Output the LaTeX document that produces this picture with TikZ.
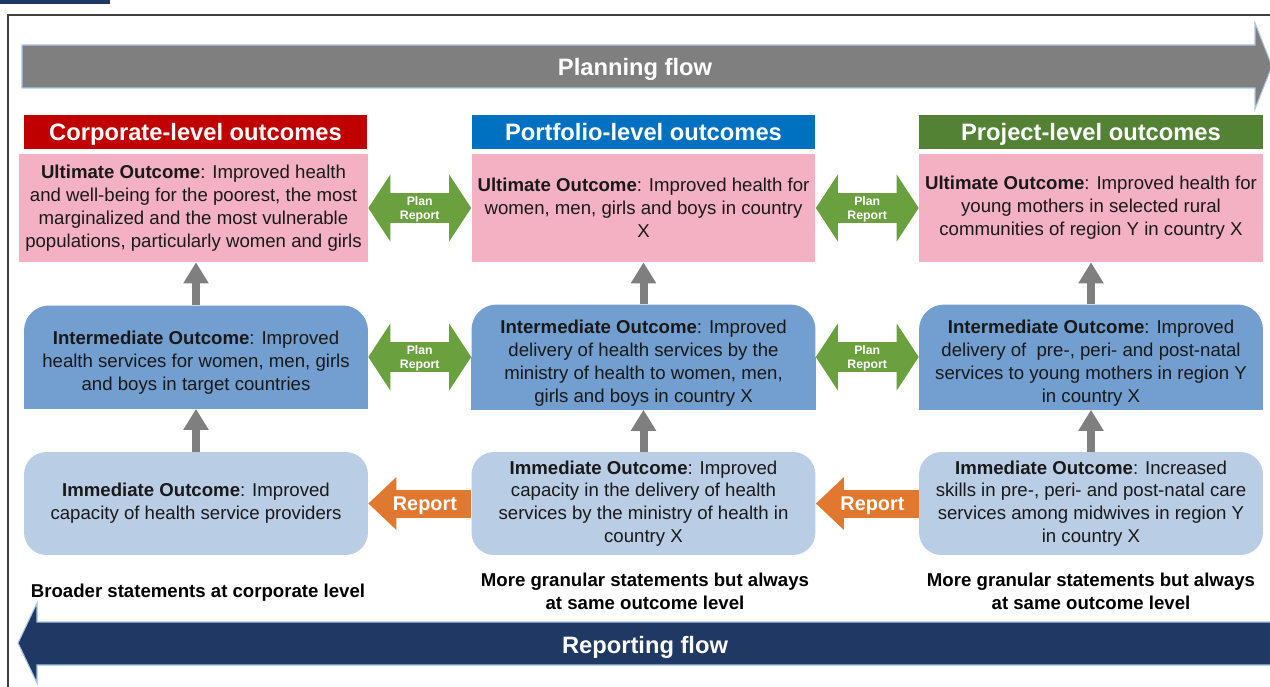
\documentclass[tikz,border=0pt]{standalone}
\usepackage{fontspec}
\setmainfont{Liberation Sans}
\usepackage{xcolor}
\definecolor{corp-red}{HTML}{C00000}
\definecolor{port-blue}{HTML}{0070C0}
\definecolor{proj-green}{HTML}{548235}
\definecolor{ult-fill}{HTML}{F4B1C4}
\definecolor{int-fill}{HTML}{729FCF}
\definecolor{imm-fill}{HTML}{B9CDE5}
\definecolor{up-gray}{HTML}{7F7F7F}
\definecolor{link-green}{HTML}{6AA03E}
\definecolor{report-orange}{HTML}{E0782F}
\definecolor{flow-navy}{HTML}{203864}
\definecolor{edge-blue}{HTML}{A9C6E8}
\definecolor{frame-gray}{HTML}{404040}
\usepackage{tikz}
\usetikzlibrary{
  arrows.meta,
  backgrounds
}
% extra room above the first line of the intermediate boxes
\newcommand{\intgap}{\rule{0pt}{14.5pt}}

\begin{document}
\begin{tikzpicture}[
    x=0.02cm, y=-0.02cm,
    head/.style={
      minimum width=6.88cm,
      minimum height=0.68cm,
      inner sep=0pt,
      text height=9.7pt,
      text depth=0pt,
      text=white,
      font=\fontsize{13.5}{16}\selectfont\bfseries
    },
    outcome/.style={
      minimum width=6.88cm,
      minimum height=2.06cm,
      inner sep=2pt,
      align=center,
      text=black!90,
      font=\fontsize{10.6}{13}\selectfont
    },
    ultbox/.style={outcome, fill=ult-fill, minimum height=2.16cm},
    intbox/.style={outcome, fill=int-fill, rounded corners=0.5cm},
    immbox/.style={outcome, fill=imm-fill, rounded corners=0.45cm},
    uparrow/.style={
      draw=up-gray,
      line width=0.16cm,
      -{Triangle[length=0.42cm,width=0.48cm]}
    },
    planrep/.style={
      draw=link-green,
      line width=0.6cm,
      {Triangle[length=0.44cm,width=1.32cm]}-{Triangle[length=0.44cm,width=1.32cm]}
    },
    reparrow/.style={
      draw=report-orange,
      line width=0.56cm,
      -{Triangle[length=0.56cm,width=1.02cm]}
    },
    smalllabel/.style={
      text=white,
      align=center,
      inner sep=0pt,
      yshift=-1pt,
      font=\fontsize{7}{8}\selectfont\bfseries
    },
    replabel/.style={
      text=white,
      inner sep=0pt,
      text height=8.1pt,
      text depth=0pt,
      font=\fontsize{11.3}{13}\selectfont\bfseries
    },
    note/.style={
      align=center,
      text=black,
      font=\fontsize{10.6}{13}\selectfont\bfseries
    },
    flowlabel/.style={
      text=white,
      text height=9.7pt,
      text depth=0pt,
      font=\fontsize{13.5}{16}\selectfont\bfseries
    }
  ]
    \useasboundingbox (0,0) rectangle (1270,686);
    \clip (0,0) rectangle (1270,686);

    % frame and corner tab
    \fill[flow-navy] (0,0) rectangle (110,4);
    \draw[frame-gray, line width=0.9pt] (8,15) rectangle (1290,700);

    % planning flow, left to right
    \filldraw[draw=edge-blue, line width=0.6pt, fill=up-gray]
      (22,45) -- (1255,45) -- (1255,23) -- (1272,66) -- (1255,109) -- (1255,88) -- (22,88) -- cycle;
    \node[flowlabel] (plan) at (635,67) {Planning flow};

    % reporting flow, right to left
    \filldraw[draw=edge-blue, line width=0.6pt, fill=flow-navy]
      (1290,622) -- (37,622) -- (37,603) -- (18,643) -- (37,683) -- (37,665) -- (1290,665) -- cycle;
    \node[flowlabel] (rep) at (645,645) {Reporting flow};

    % column headers
    \node[head, fill=corp-red]   (corp) at (195.5,132)  {Corporate-level outcomes};
    \node[head, fill=port-blue]  (port) at (643.5,132)  {Portfolio-level outcomes};
    \node[head, fill=proj-green] (proj) at (1091,132)   {Project-level outcomes};

    % ultimate outcomes
    \node[ultbox, minimum width=6.98cm] (ult1) at (193.5,208)
      {\textbf{Ultimate Outcome}: Improved health\\and well-being for the poorest, the most\\marginalized and the most vulnerable\\populations, particularly women and girls};
    \node[ultbox] (ult2) at (643.5,208)
      {\textbf{Ultimate Outcome}: Improved health for\\women, men, girls and boys in country\\X};
    \node[ultbox] (ult3) at (1091,208)
      {\textbf{Ultimate Outcome}: Improved health for\\young mothers in selected rural\\communities of region Y in country X};

    % intermediate outcomes
    \node[intbox] (int1) at (196,357)
      {\intgap\textbf{Intermediate Outcome}: Improved\\health services for women, men, girls\\and boys in target countries};
    \node[intbox] (int2) at (643.5,357)
      {\intgap\textbf{Intermediate Outcome}: Improved\\delivery of health services by the\\ministry of health to women, men,\\girls and boys in country X};
    \node[intbox] (int3) at (1091,357)
      {\intgap\textbf{Intermediate Outcome}: Improved\\delivery of\ \ pre-, peri- and post-natal\\services to young mothers in region Y\\in country X};

    % square off the lower corners of the intermediate boxes
    \begin{scope}[on background layer]
      \foreach \n in {int1,int2,int3}
        \fill[int-fill] (\n.west) rectangle (\n.south east);
    \end{scope}

    % immediate outcomes
    \node[immbox] (imm1) at (196,503.5)
      {\textbf{Immediate Outcome}: Improved\\capacity of health service providers};
    \node[immbox] (imm2) at (643.5,503.5)
      {\textbf{Immediate Outcome}: Improved\\capacity in the delivery of health\\services by the ministry of health in\\country X};
    \node[immbox] (imm3) at (1091,503.5)
      {\textbf{Immediate Outcome}: Increased\\skills in pre-, peri- and post-natal care\\services among midwives in region Y\\in country X};

    % immediate -> intermediate -> ultimate
    \foreach \c in {1,2,3} {
      \draw[uparrow] (imm\c.north) -- (int\c.south);
      \draw[uparrow] (int\c.north) -- (int\c.north |- ult\c.south);
    }

    % plan / report links between levels
    \draw[planrep] (ult1.east) -- node[smalllabel] {Plan\\Report} (ult2.west);
    \draw[planrep] (ult2.east) -- node[smalllabel] {Plan\\Report} (ult3.west);
    \draw[planrep] (int1.east) -- node[smalllabel] {Plan\\Report} (int2.west);
    \draw[planrep] (int2.east) -- node[smalllabel] {Plan\\Report} (int3.west);

    % immediate results reported upwards
    \draw[reparrow] (imm2.west) -- node[replabel, pos=0.45] {Report} (imm1.east);
    \draw[reparrow] (imm3.west) -- node[replabel, pos=0.45] {Report} (imm2.east);

    % notes under the columns
    \node[note] (n1) at (198,593) {Broader statements at corporate level};
    \node[note] (n2) at (645,591.5) {More granular statements but always\\at same outcome level};
    \node[note] (n3) at (1091,591.5) {More granular statements but always\\at same outcome level};
  \end{tikzpicture}
\end{document}
